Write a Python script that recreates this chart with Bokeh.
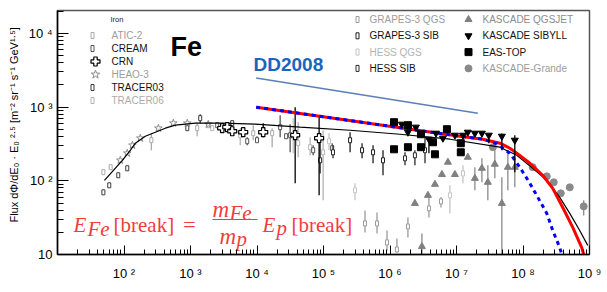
from bokeh.plotting import figure
from bokeh.models import Range1d, LinearScale, FixedTicker, Label
from bokeh.core.properties import value
from bokeh.embed import file_html
from bokeh.resources import INLINE

FONT = "Liberation Sans"
SERIF = "Liberation Serif"

# ---------------- data ----------------
X_TICKS = [1e1, 1e2, 1e3, 1e4, 1e5, 1e6, 1e7, 1e8, 1e9]
X_TICK_LABELS = ["", "10 ²", "10 ³", "10 ⁴", "10 ⁵", "10 ⁶", "10 ⁷", "10 ⁸", "10 ⁹"]
Y_TICKS = [1e1, 1e2, 1e3, 1e4]
Y_TICK_LABELS = ["10", "10 ²", "10 ³", "10 ⁴"]

ATIC2_E = [49, 63, 258, 1260, 1850, 8770, 16900]
ATIC2_F = [131, 153, 356, 518, 569, 443, 443]
ATIC2_LO = [131, 153, 260, 403, 569, 356, 286]
ATIC2_HI = [131, 153, 443, 625, 569, 569, 518]

CREAM_E = [2520, 7130, 10000, 22300, 27400, 31500, 69900, 135000]
CREAM_F = [569, 345, 356, 535, 403, 416, 260, 277]
CREAM_LO = [569, 304, 334, 391, 403, 244, 222, 237]
CREAM_HI = [569, 391, 403, 778, 403, 587, 304, 324]

CRN_E = [3000, 3570, 4240, 6200, 12400, 37500, 85900]
CRN_F = [518, 535, 471, 457, 457, 416, 379]
CRN_LO = [518, 535, 471, 457, 391, 92.5, 63.5]
CRN_HI = [518, 535, 471, 457, 606, 1000, 778]

HEAO3_E = [88, 112, 134, 176, 329, 552, 895, 1850]
HEAO3_F = [190, 237, 304, 379, 518, 606, 606, 587]

TRACER03_E = [49, 60, 82, 112, 895, 1400, 4240]
TRACER03_F = [69.8, 86.9, 119, 148, 518, 708, 606]
TRACER03_LO = [69.8, 86.9, 119, 148, 490, 606, 560]
TRACER03_HI = [69.8, 86.9, 119, 148, 560, 803, 660]

TRACER06_E = [2120, 5600, 41600, 63000, 98700]
TRACER06_F = [518, 416, 324, 286, 244]
TRACER06_LO = [518, 304, 209, 222, 54.3]
TRACER06_HI = [518, 518, 625, 391, 486]

GQGS_E = [4.21e5, 6.38e5, 9.02e5, 1.27e6, 1.86e6, 3.85e6, 5.84e6]
GQGS_F = [26.4, 26.4, 14.6, 11.7, 24.0, 42.3, 52.6]
GQGS_LO = [19.9, 19.3, 11.3, 10.6, 17.0, 31.9, 43.6]
GQGS_HI = [39.7, 37.3, 21.2, 16.5, 31.9, 59.7, 59.7]

GSIB_E = [2.51e5, 3.80e5, 5.56e5, 7.85e5]
GSIB_F = [356, 260, 244, 190]
GSIB_LO = [244, 202, 173, 119]
GSIB_HI = [457, 324, 304, 260]

HQGS_E = [3.50e4, 1.21e5, 2.98e5, 7.96e6, 1.25e7]
HQGS_F = [416, 345, 74.3, 63.5, 126]
HQGS_LO = [237, 260, 54.3, 36.1, 92.5]
HQGS_HI = [708, 443, 92.5, 86.9, 163]

HSIB_E = [8.9e4, 1.39e5, 1.68e6, 2.37e6, 3.36e6]
HSIB_F = [190, 244, 202, 222, 260]
HSIB_LO = [126, 202, 163, 163, 173]
HSIB_HI = [324, 304, 244, 260, 391]

KQ_E = [2.37e6, 3.02e6, 3.72e6, 4.74e6, 6.04e6, 7.43e6, 9.47e6, 1.48e7,
        1.89e7, 2.41e7, 2.96e7, 3.77e7, 4.81e7, 5.92e7, 7.53e7]
KQ_F = [49.4, 12.8, 63.5, 89.6, 122, 179, 122, 209, 108, 148, 95.5, 168, 49.4, 153, 153]
KQ_LO = [49.4, 10, 63.5, 89.6, 122, 179, 122, 209, 74.3, 95.5, 54.3, 108, 10, 74.3, 81.6]
KQ_HI = [49.4, 19.3, 63.5, 89.6, 122, 179, 122, 209, 153, 202, 163, 260, 112, 260, 222]

KS_E = [1.51e6, 1.86e6, 2.45e6, 3.85e6, 4.91e6, 6.25e6, 9.47e6, 1.25e7,
        1.48e7, 1.89e7, 2.41e7, 3.06e7, 4.81e7, 7.53e7]
KS_F = [587, 457, 535, 367, 443, 379, 416, 416, 457, 443, 443, 416, 403, 356]
KS_LO = [587, 457, 535, 237, 443, 379, 416, 416, 457, 443, 443, 324, 260, 131]
KS_HI = [587, 457, 535, 391, 443, 379, 416, 416, 457, 443, 443, 416, 440, 416]

EAS_E = [1.15e6, 1.86e6, 2.92e6, 7.18e6, 1.15e6, 1.86e6, 2.92e6, 4.43e6, 4.74e6, 1.16e7, 1.16e7]
EAS_F = [625, 569, 429, 502, 268, 286, 286, 334, 229, 324, 244]

KG_E = [3.52e7, 1.40e8, 2.28e8, 2.90e8, 3.70e8, 5.05e8, 8.18e8]
KG_F = [286, 153, 115, 95.5, 67.6, 81.6, 45.0]
KG_LO = [286, 153, 115, 95.5, 67.6, 81.6, 33.9]
KG_HI = [286, 153, 115, 95.5, 67.6, 81.6, 54.3]

FIT_E = [50.8, 69.3, 94.6, 125, 148, 209, 296, 418, 591, 1180, 3000, 9400, 44600,
         2.5e5, 1.41e6, 7.96e6, 4.49e7, 8.07e7, 1.40e8, 2.28e8, 3.57e8, 5.05e8, 7.13e8, 9.40e8]
FIT_F = [101.6, 139, 190, 260, 324, 403, 457, 518, 569, 606, 606, 587, 535,
         486, 429, 367, 286, 222, 148, 102, 59.7, 36.1, 21.2, 13.3]

RED_E = [9730, 1.26e5, 1.41e6, 1.12e7, 2.49e7, 4.49e7, 6.34e7, 8.07e7, 1.27e8,
         1.98e8, 2.80e8, 3.96e8, 5.60e8, 7.64e8, 8.19e8]
RED_F = [1000, 719, 526, 403, 367, 324, 277, 237, 173, 119, 79, 43.5, 23.3, 12.4, 10]

BLUE_E = [9730, 1.26e5, 1.41e6, 1.12e7, 2.49e7, 4.05e7, 6.34e7, 8.95e7, 1.27e8,
          1.67e8, 2.28e8, 2.80e8, 3.57e8, 3.83e8]
BLUE_F = [1000, 719, 526, 403, 367, 318, 237, 153, 92.5, 59.7, 36.1, 21.2, 12.4, 10]

DD_E = [9730, 2.09e7]
DD_F = [2483, 828]

LEFT_LEGEND = ["ATIC-2", "CREAM", "CRN", "HEAO-3", "TRACER03", "TRACER06"]
LEFT_COLORS = ["#9c9c9c", "#111111", "#111111", "#9c9c9c", "#111111", "#ababab"]
RIGHT1_LEGEND = ["GRAPES-3 QGS", "GRAPES-3 SIB", "HESS QGS", "HESS SIB"]
RIGHT1_COLORS = ["#9c9c9c", "#111111", "#b4b4b4", "#111111"]
RIGHT2_LEGEND = ["KASCADE QGSJET", "KASCADE SIBYLL", "EAS-TOP", "KASCADE-Grande"]
RIGHT2_COLORS = ["#8c8c8c", "#111111", "#111111", "#9c9c9c"]

# ---------------- figure ----------------
FW, FH = 532, 244
p = figure(width=607, height=292, x_axis_type="log", y_axis_type="log",
           x_range=Range1d(1e1, 1e9), y_range=Range1d(1e1, 2.05e4),
           output_backend="svg", toolbar_location=None,
           min_border_left=57, min_border_right=18, min_border_top=10, min_border_bottom=38)
p.xgrid.visible = False
p.ygrid.visible = False
p.outline_line_color = "#555555"
p.outline_line_width = 1.5
p.background_fill_color = "white"
p.border_fill_color = "white"

p.extra_x_ranges = {"px": Range1d(0, FW)}
p.extra_y_ranges = {"py": Range1d(0, FH)}
p.extra_x_scales = {"px": LinearScale()}
p.extra_y_scales = {"py": LinearScale()}

xa = p.xaxis[0]
xa.ticker = FixedTicker(ticks=X_TICKS,
                        minor_ticks=[k * t for t in X_TICKS[:-1] for k in range(2, 10)])
xa.major_label_overrides = {t: s for t, s in zip(X_TICKS, X_TICK_LABELS)}
ya = p.yaxis[0]
ya.ticker = FixedTicker(ticks=Y_TICKS,
                        minor_ticks=[k * t for t in Y_TICKS for k in range(2, 10)])
ya.major_label_overrides = {t: s for t, s in zip(Y_TICKS, Y_TICK_LABELS)}

for ax, mj, mn in ((xa, 9, 5), (ya, 11, 6)):
    ax.major_tick_in = mj
    ax.major_tick_out = 0
    ax.minor_tick_in = mn
    ax.minor_tick_out = 0
    ax.axis_line_width = 1.5
    ax.axis_line_color = "black"
    ax.major_tick_line_color = "black"
    ax.minor_tick_line_color = "black"
    ax.major_label_text_font = FONT
    ax.major_label_text_font_size = "13px"
    ax.major_label_text_color = "black"
xa.major_label_standoff = 11
ya.major_label_standoff = 5
ya.axis_label = "\u00a0" * 5 + "Flux dΦ/dE₀ · E₀ ²·⁵ [m⁻² sr⁻¹ s⁻¹ GeV¹·⁵]"
ya.axis_label_text_font = FONT
ya.axis_label_text_font_size = "11px"
ya.axis_label_text_font_style = "normal"
ya.axis_label_text_color = "black"
ya.axis_label_standoff = 6


def err_rect(E, F, LO, HI, color):
    p.segment(x0=E, y0=LO, x1=E, y1=HI, line_color=color, line_width=1.3)
    p.rect(x=E, y=F, width=3, height=5, width_units="screen", height_units="screen",
           fill_color="white", line_color=color, line_width=1)


# direct-measurement and air-shower data
err_rect(HQGS_E, HQGS_F, HQGS_LO, HQGS_HI, "#c4c4c4")
err_rect(ATIC2_E, ATIC2_F, ATIC2_LO, ATIC2_HI, "#aaaaaa")
err_rect(TRACER06_E, TRACER06_F, TRACER06_LO, TRACER06_HI, "#b4b4b4")
err_rect(GQGS_E, GQGS_F, GQGS_LO, GQGS_HI, "#9a9a9a")
err_rect(CREAM_E, CREAM_F, CREAM_LO, CREAM_HI, "#555555")
err_rect(TRACER03_E, TRACER03_F, TRACER03_LO, TRACER03_HI, "#3c3c3c")
err_rect(GSIB_E, GSIB_F, GSIB_LO, GSIB_HI, "#1e1e1e")
err_rect(HSIB_E, HSIB_F, HSIB_LO, HSIB_HI, "#2a2a2a")

p.scatter(HEAO3_E, HEAO3_F, marker="star", size=8, fill_color=None,
          line_color="#8c8c8c", line_width=1)

p.segment(x0=KQ_E, y0=KQ_LO, x1=KQ_E, y1=KQ_HI, line_color="#8a8a8a", line_width=1.3)
p.scatter(KQ_E, KQ_F, marker="triangle", size=7, fill_color="#808080", line_color="#808080")
p.segment(x0=KG_E, y0=KG_LO, x1=KG_E, y1=KG_HI, line_color="#8a8a8a", line_width=1.3)
p.scatter(KG_E, KG_F, marker="circle", size=7, fill_color="#8a8a8a", line_color="#8a8a8a")

p.segment(x0=CRN_E, y0=CRN_LO, x1=CRN_E, y1=CRN_HI, line_color="black", line_width=1.3)

# model curves
p.line(FIT_E, FIT_F, line_color="black", line_width=1.2)
p.line(DD_E, DD_F, line_color="#5b7fb8", line_width=1.5)
p.line(RED_E, RED_F, line_color="#ff0000", line_width=3)
p.line(BLUE_E, BLUE_F, line_color="#0000ff", line_width=3, line_dash="4 4")

p.scatter(CRN_E, CRN_F, marker="plus", size=9, fill_color="white",
          line_color="black", line_width=1.2)
p.segment(x0=KS_E, y0=KS_LO, x1=KS_E, y1=KS_HI, line_color="black", line_width=1.3)
p.scatter(KS_E, KS_F, marker="inverted_triangle", size=7, fill_color="black", line_color="black")
p.scatter(EAS_E, EAS_F, marker="square", size=7, fill_color="black", line_color="black")

# ---------------- legends (frame pixel coordinates) ----------------
R = dict(x_range_name="px", y_range_name="py")


def texts(xs, ys, labels, colors, size, font=FONT, style="normal", align="left",
          baseline="middle"):
    p.text(x=xs, y=ys, text=labels, text_color=colors, text_font=value(font),
           text_font_size=size, text_font_style=style, text_align=align,
           text_baseline=baseline, **R)


# left legend
LX_M, LX_T, LY0, LDY = 35, 54, 219, 13
lys = [LY0 - i * LDY for i in range(len(LEFT_LEGEND))]
texts([LX_T] * 6, lys, LEFT_LEGEND, LEFT_COLORS, "10px")
texts([53], [235], ["Iron"], ["#222222"], "7.5px")
rect_rows = [0, 1, 4, 5]
rect_cols = ["#aaaaaa", "#555555", "#3c3c3c", "#b4b4b4"]
p.rect(x=[LX_M] * 4, y=[lys[i] for i in rect_rows], width=3, height=6,
       width_units="screen", height_units="screen", fill_color="white",
       line_color=rect_cols, line_width=1, **R)
p.scatter(x=[LX_M + 3], y=[lys[2]], marker="plus", size=9, fill_color="white",
          line_color="black", line_width=1.2, **R)
p.scatter(x=[LX_M + 3], y=[lys[3]], marker="star", size=9, fill_color=None,
          line_color="#8c8c8c", line_width=1, **R)

# right legend, column 1
R1_M, R1_T, RY0, RDY = 300, 312, 235, 16.3
rys = [RY0 - i * RDY for i in range(4)]
texts([R1_T] * 4, rys, RIGHT1_LEGEND, RIGHT1_COLORS, "10px")
p.rect(x=[R1_M] * 4, y=rys, width=3, height=6, width_units="screen", height_units="screen",
       fill_color="white", line_color=["#9a9a9a", "#1e1e1e", "#c4c4c4", "#2a2a2a"],
       line_width=1, **R)

# right legend, column 2
R2_M, R2_T = 411, 425
texts([R2_T] * 4, rys, RIGHT2_LEGEND, RIGHT2_COLORS, "10px")
p.scatter(x=[R2_M], y=[rys[0]], marker="triangle", size=7, fill_color="#808080",
          line_color="#808080", **R)
p.scatter(x=[R2_M], y=[rys[1]], marker="inverted_triangle", size=7, fill_color="black",
          line_color="black", **R)
p.scatter(x=[R2_M], y=[rys[2]], marker="square", size=7, fill_color="black",
          line_color="black", **R)
p.scatter(x=[R2_M], y=[rys[3]], marker="circle", size=7, fill_color="#8a8a8a",
          line_color="#8a8a8a", **R)

# titles
texts([113], [208], ["Fe"], ["black"], "27px", style="bold", baseline="alphabetic")
texts([196], [190], ["DD2008"], ["#1a64c0"], "19px", style="bold", baseline="alphabetic")

# formula  E_Fe[break] = (m_Fe / m_p) E_p[break]
RED = "#f23c3c"
texts([16, 205], [30, 30], ["E", "E"], [RED] * 2, "21px", font=SERIF,
      style="italic", baseline="alphabetic")
texts([155, 162], [45, 18], ["m", "m"], [RED] * 2, "23px", font=SERIF,
      style="italic", baseline="alphabetic")
texts([30, 172, 219, 179], [26, 42, 27, 16], ["Fe", "Fe", "p", "p"], [RED] * 4, "21px",
      font=SERIF, style="italic", baseline="alphabetic")
texts([56, 234], [30, 30], ["[break]", "[break]"], [RED] * 2, "21px", font=SERIF,
      baseline="alphabetic")
texts([132], [30], ["="], [RED], "22px", font=SERIF, align="center", baseline="alphabetic")
p.segment(x0=[155], y0=[35], x1=[200], y1=[35], line_color=RED, line_width=1.2, **R)

p.add_layout(Label(x=FW + 1, y=-30, x_range_name="px", y_range_name="py",
                   text="Energy E₀ [GeV]", text_align="right", text_baseline="middle",
                   text_font=FONT, text_font_size="11px", text_color="black"))

open("out.html", "w").write(file_html(p, INLINE))
